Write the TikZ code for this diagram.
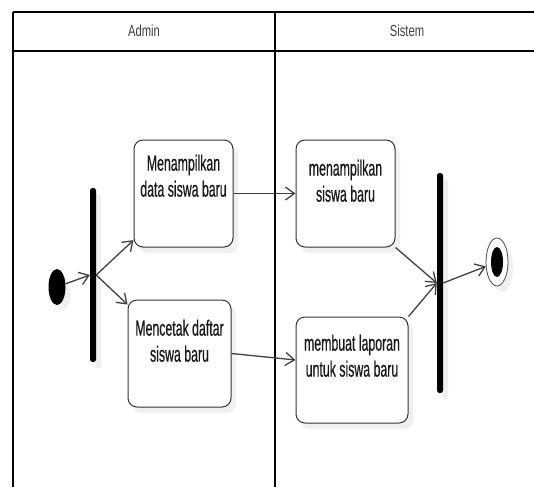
\documentclass[tikz,border=0pt]{standalone}
\usepackage{fontspec}
\setmainfont{Liberation Sans}[FakeStretch=0.56,FakeBold=0.5]
\newfontfamily\lanefont{Liberation Sans}[FakeStretch=0.7]
\usetikzlibrary{arrows.meta,shapes.geometric,shadows}

\tikzset{
  lane/.style={line width=1.4pt},
  head/.style={line width=2.6pt},
  shade/.style={drop shadow={shadow xshift=5pt,shadow yshift=-6pt,fill=black!6,opacity=1}},
  act/.style={draw=black!80,rounded corners=9pt,fill=white,line width=1pt,inner sep=0pt,shade},
  acttext/.style={align=center,anchor=north,inner sep=0pt,font=\fontsize{22}{26}\selectfont,text=black!90},
  lanetext/.style={font=\lanefont\fontsize{16}{18}\selectfont,text=black!75},
  bar/.style={fill=black,rounded corners=2.5pt,minimum width=6pt,inner sep=0pt,shade},
  flow/.style={draw=black!75,line width=1.3pt,-{Straight Barb[length=9pt,width=13pt]}},
}

\begin{document}
\begin{tikzpicture}[x=1pt,y=-1pt]
    \useasboundingbox (0,0) rectangle (534,487);
    % lanes
    \draw[head] (13,12) -- (545,12);
    \draw[head] (13,51) -- (545,51);
    \draw[lane] (13,12) -- (13,487);
    \draw[lane] (275,12) -- (275,487);
    \node[lanetext] (admin) at (144,31) {Admin};
    \node[lanetext] (sistem) at (407,31) {Sistem};
    % start and fork
    \node[ellipse,fill=black,minimum width=17pt,minimum height=36pt,inner sep=0pt,shade] (start) at (57,287) {};
    \node[bar,minimum height=174pt] (fork) at (93,275) {};
    % activities
    \node[act,minimum width=99pt,minimum height=107pt] (show) at (183.5,193.5) {};
    \node[acttext] (showtext) at ([yshift=-15pt]show.north) {Menampilkan\\data siswa baru};
    \node[act,minimum width=103pt,minimum height=107pt] (print) at (179.5,353.5) {};
    \node[acttext] (printtext) at ([yshift=-20pt]print.north) {Mencetak daftar\\siswa baru};
    \node[act,minimum width=99pt,minimum height=107pt] (list) at (345.5,193.5) {};
    \node[acttext] (listtext) at ([yshift=-20pt]list.north) {menampilkan\\siswa baru};
    \node[act,minimum width=112pt,minimum height=106pt] (report) at (352,370) {};
    \node[acttext] (reporttext) at ([yshift=-18pt]report.north) {membuat laporan\\untuk siswa baru};
    % join and end
    \node[bar,minimum height=220pt] (join) at (440,283) {};
    \node[ellipse,draw=black!70,fill=white,line width=0.8pt,minimum width=22pt,minimum height=48pt,inner sep=0pt,shade] (end) at (497,262) {};
    \node[ellipse,fill=black,minimum width=12pt,minimum height=30pt,inner sep=0pt] (endcore) at (end) {};
    % flows
    \draw[flow] (start) -- (fork.west);
    \draw[flow] (fork.east) -- (show);
    \draw[flow] (fork.east) -- (print);
    \draw[flow] (show) -- (list);
    \draw[flow] (print.east) -- ([yshift=10pt]report.west);
    \draw[flow] (list.south east) -- (join.west);
    \draw[flow] (report.north east) -- (join.west);
    \draw[flow] (join.east) -- (end);
\end{tikzpicture}
\end{document}
